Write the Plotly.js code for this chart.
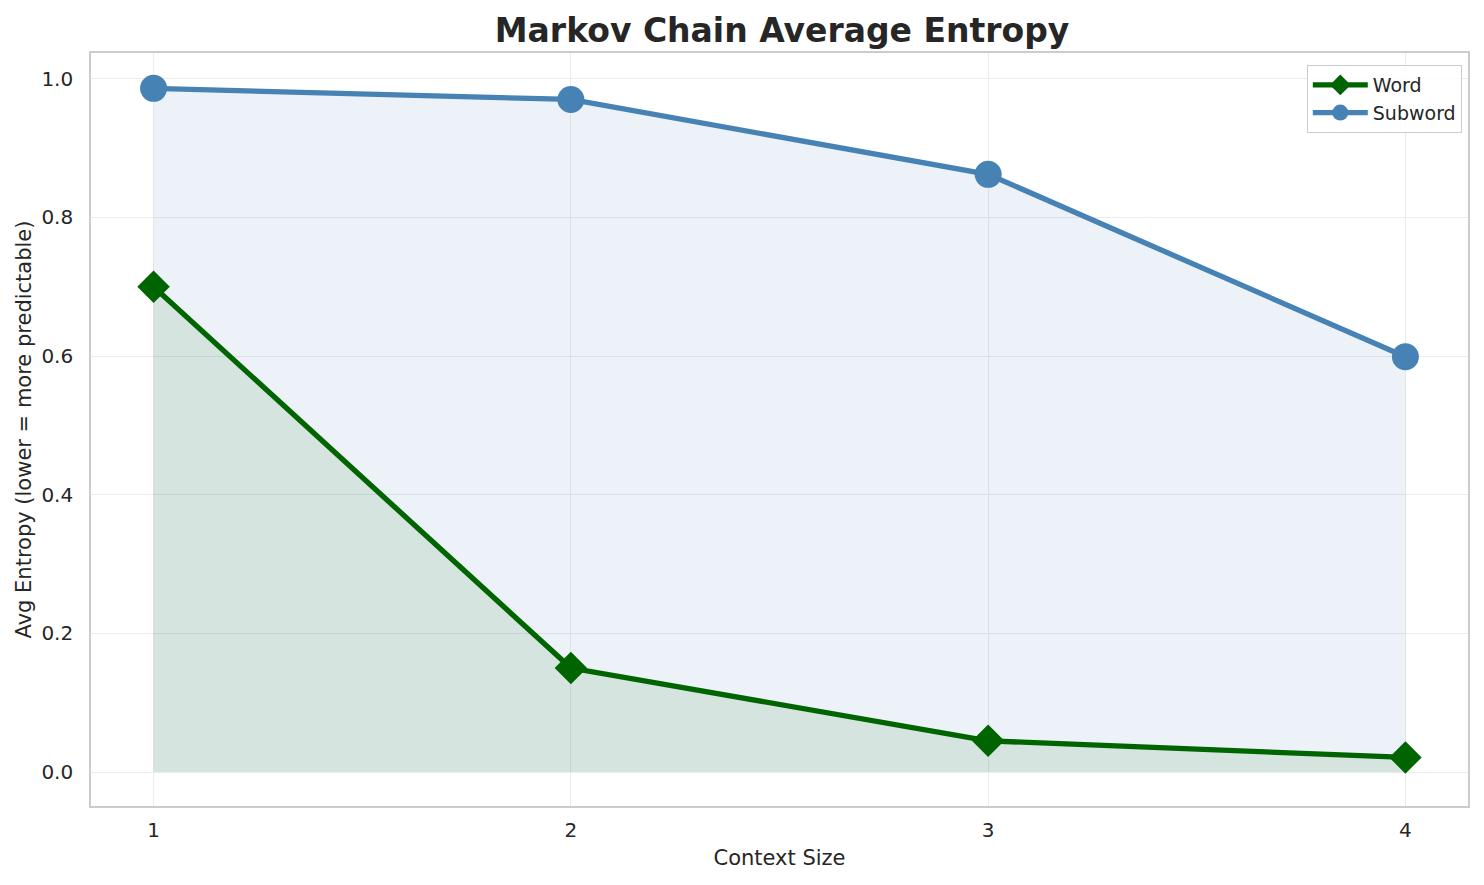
<!DOCTYPE html>
<html>
<head>
<meta charset="utf-8">
<script src="https://cdn.plot.ly/plotly-3.0.1.min.js"></script>
<style>
  html, body { margin: 0; padding: 0; background: #fff; }
  #chart { width: 1484px; height: 885px; }
</style>
</head>
<body>
<div id="chart"></div>
<script>
// context sizes and average entropies
var contextSizes = [1, 2, 3, 4];
var wordEntropy = [0.700, 0.150, 0.045, 0.021];
var subwordEntropy = [0.986, 0.970, 0.862, 0.599];
var yTicks = [0.0, 0.2, 0.4, 0.6, 0.8, 1.0];

var wordColor = '#006400';
var subwordColor = '#4682B4';

// shaded areas first so the lines stay on top
var subwordFill = {
    x: contextSizes,
    y: subwordEntropy,
    mode: 'none',
    fill: 'tozeroy',
    fillcolor: 'rgba(70,130,180,0.1)',
    showlegend: false,
    hoverinfo: 'skip'
};

var wordFill = {
    x: contextSizes,
    y: wordEntropy,
    mode: 'none',
    fill: 'tozeroy',
    fillcolor: 'rgba(0,100,0,0.095)',
    showlegend: false,
    hoverinfo: 'skip'
};

var word = {
    x: contextSizes,
    y: wordEntropy,
    name: 'Word',
    mode: 'lines+markers',
    line: { color: wordColor, width: 5.3 },
    marker: { symbol: 'diamond', size: 25, color: wordColor }
};

var subword = {
    x: contextSizes,
    y: subwordEntropy,
    name: 'Subword',
    mode: 'lines+markers',
    line: { color: subwordColor, width: 5.3 },
    marker: { symbol: 'circle', size: 27, color: subwordColor }
};

var data = [subwordFill, wordFill, word, subword];

var layout = {
    width: 1484,
    height: 885,
    paper_bgcolor: '#ffffff',
    plot_bgcolor: '#ffffff',
    font: { family: 'DejaVu Sans, sans-serif', color: '#262626', size: 20 },
    margin: { l: 91, r: 16, t: 53, b: 79 },
    title: {
        text: '<b>Markov Chain Average Entropy</b>',
        font: { size: 33, color: '#262626' },
        x: 0.527, xanchor: 'center',
        y: 0.966, yanchor: 'middle'
    },
    xaxis: {
        title: { text: 'Context Size', font: { size: 21 }, standoff: 10 },
        range: [0.85, 4.15],
        tickvals: contextSizes,
        ticktext: contextSizes.map(String),
        showgrid: true,
        gridcolor: '#EBEBEB',
        gridwidth: 1.3,
        zeroline: false,
        showline: true,
        linecolor: '#CCCCCC',
        linewidth: 1.6,
        mirror: true,
        ticks: '',
        ticklabelstandoff: 5,
        tickfont: { size: 20 }
    },
    yaxis: {
        title: { text: 'Avg Entropy (lower = more predictable)', font: { size: 21 }, standoff: 4 },
        range: [-0.049, 1.037],
        tickvals: yTicks,
        ticktext: yTicks.map(function (v) { return v.toFixed(1); }),
        showgrid: true,
        gridcolor: '#EBEBEB',
        gridwidth: 1.3,
        zeroline: false,
        showline: true,
        linecolor: '#CCCCCC',
        linewidth: 1.6,
        mirror: true,
        ticks: '',
        ticklabelstandoff: 12,
        tickfont: { size: 20 }
    },
    legend: {
        x: 0.9955, xanchor: 'right',
        y: 0.984, yanchor: 'top',
        bgcolor: 'rgba(255,255,255,0.85)',
        bordercolor: '#CCCCCC',
        borderwidth: 1,
        font: { size: 19 },
        itemwidth: 55,
        tracegroupgap: 0
    },
    showlegend: true
};

Plotly.newPlot('chart', data, layout, { displayModeBar: false });
</script>
</body>
</html>
